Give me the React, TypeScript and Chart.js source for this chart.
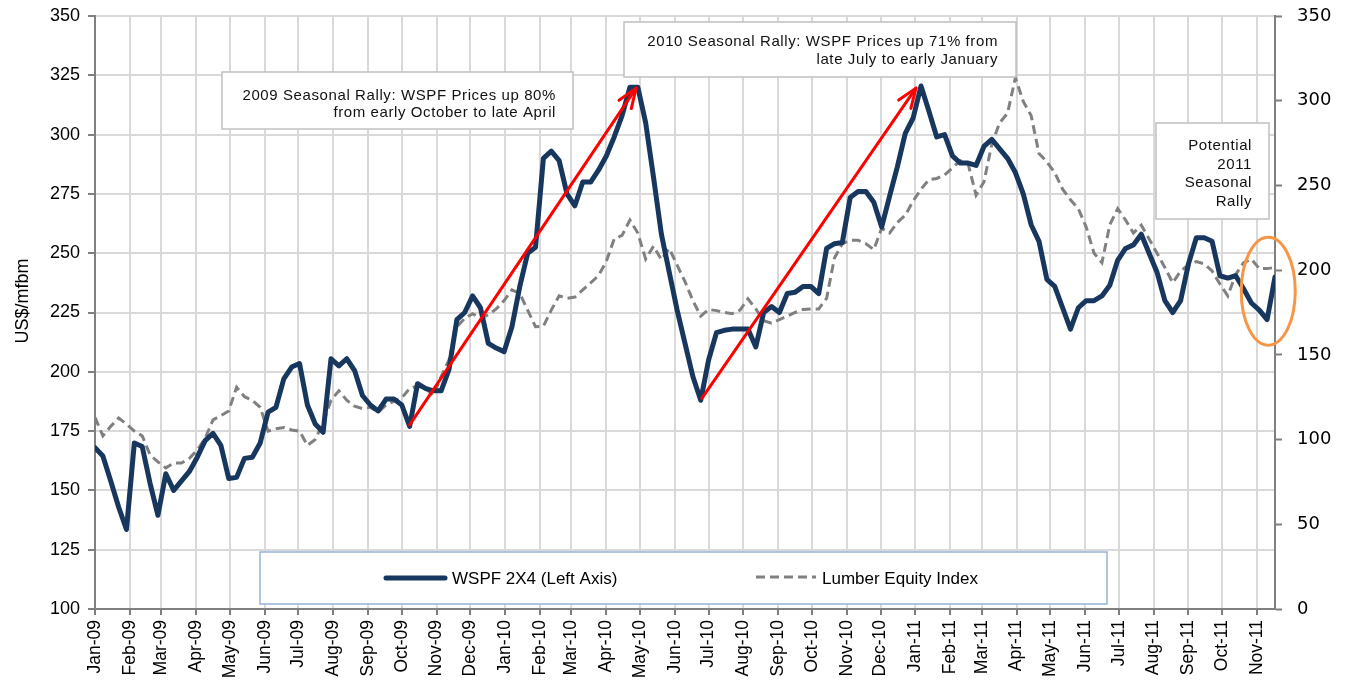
import React, { useEffect, useRef } from 'react';
import { Chart, registerables } from 'chart.js';

Chart.register(...registerables);

// ---------- Data ----------
const MONTH_LABELS = [
  'Jan-09', 'Feb-09', 'Mar-09', 'Apr-09', 'May-09', 'Jun-09', 'Jul-09', 'Aug-09', 'Sep-09', 'Oct-09', 'Nov-09', 'Dec-09',
  'Jan-10', 'Feb-10', 'Mar-10', 'Apr-10', 'May-10', 'Jun-10', 'Jul-10', 'Aug-10', 'Sep-10', 'Oct-10', 'Nov-10', 'Dec-10',
  'Jan-11', 'Feb-11', 'Mar-11', 'Apr-11', 'May-11', 'Jun-11', 'Jul-11', 'Aug-11', 'Sep-11', 'Oct-11', 'Nov-11',
];

// Weekly WSPF 2x4 price (US$/mfbm), left axis, starting first week of Jan-09
const WSPF = [
  168, 164.5, 154, 143, 133.5, 170, 168.5, 153, 139.5, 157,
  150, 154, 158, 164, 171, 174, 169, 155, 155.5, 163.5,
  164, 170, 183, 185, 197, 202, 203.5, 186, 178, 174.5,
  205.5, 202.5, 205.5, 200.5, 190, 186, 183.5, 188.5, 188.5, 186,
  177, 195, 193, 192, 192, 201, 222, 225, 232, 227,
  212, 210, 208.5, 219, 236, 250, 252.5, 290, 293, 289,
  275, 270, 280, 280, 285, 291, 299, 308, 320, 320,
  305, 282, 258, 242, 226, 212, 198, 188, 205, 216.5,
  217.5, 218, 218, 218, 210.5, 225, 227.5, 225, 233, 233.5,
  236, 236, 233, 252, 254, 254.5, 273.5, 276, 276, 271.5,
  261, 274, 286.5, 300.5, 307, 320.5, 310, 299, 300, 291,
  288, 288, 287, 295, 298, 294, 290, 284, 275, 262,
  255, 239, 236, 227, 218, 227, 230, 230, 232, 236.5,
  247, 252, 253.5, 258, 250, 242, 230, 225, 230, 245.5,
  256.5, 256.5, 255, 240.5, 239.5, 240.5, 235, 229, 226, 222,
  240,
];

// Weekly Lumber Equity Index, right axis
const LUMBER = [
  113.1, 102.2, 107.8, 112.7, 109.2, 105, 102.2, 91, 86.8, 83.3,
  86.1, 86.1, 88.9, 93.8, 100.8, 111.6, 114.1, 116.9, 130.9, 125.3,
  123.2, 119, 105, 106.4, 107.1, 105.7, 105, 96.6, 100.1, 109.9,
  123.2, 128.8, 123.2, 119.7, 118.3, 119, 116.2, 120.4, 122.5, 124.6,
  130.2, 131.6, 130.2, 126, 137.2, 147, 166.6, 171.5, 174.3, 171.5,
  173.6, 177.1, 182, 188.3, 186.2, 176.4, 166.6, 166.9, 176.4, 184.8,
  183.4, 184.1, 188.3, 192.5, 196.7, 205.2, 218.4, 220.5, 229.6, 221.9,
  206.5, 214.2, 206.2, 212.8, 203, 193.2, 182, 172.9, 176.8, 176.1,
  175, 174.3, 176.4, 183.1, 177.1, 170.1, 168.7, 170.8, 172.9, 175,
  176.8, 177.1, 177.1, 183.4, 207.2, 215.6, 217.7, 217.7, 215.6, 212.1,
  224.7, 221.9, 228.2, 232.4, 240.8, 247.8, 253.4, 254.1, 256.2, 260.4,
  264.6, 262.5, 244.3, 252, 274.4, 287, 292.6, 313.6, 299.6, 291.2,
  268.8, 263.9, 257.6, 247.8, 241.5, 236.3, 225.4, 210, 204.4, 226.8,
  236.3, 229.6, 221.9, 226.5, 218.4, 210, 201.6, 192.5, 199.5, 203,
  205.1, 203.7, 199.5, 191.8, 184.8, 197.4, 204.4, 206.5, 200.9, 200.9,
  201.6,
];

const SERIES_NAMES = ['WSPF 2X4 (Left Axis)', 'Lumber Equity Index'];
const Y_TITLE = 'US$/mfbm';

// Annotation content (data-anchored arrows/ellipse, text notes)
const ARROWS = [
  { fromDay: 280, fromVal: 177.6, toDay: 481.5, toVal: 319.6 },
  { fromDay: 540, fromVal: 188.8, toDay: 730.5, toVal: 319.6 },
];
const HIGHLIGHT = { day: 1044, val: 234 };

const NOTE_TEXTS = [
  ['2009 Seasonal Rally: WSPF Prices up 80%', 'from early October to late April'],
  ['2010 Seasonal Rally: WSPF Prices up 71% from', 'late July to early January'],
  ['Potential', '2011', 'Seasonal', 'Rally'],
];

// ---------- derived ----------
const MON = ['Jan', 'Feb', 'Mar', 'Apr', 'May', 'Jun', 'Jul', 'Aug', 'Sep', 'Oct', 'Nov', 'Dec'];
const dayOf = (label: string) => {
  const [m, yy] = label.split('-');
  return Math.round((Date.UTC(2000 + Number(yy), MON.indexOf(m), 1) - Date.UTC(2009, 0, 1)) / 86400000);
};
const TICK_DAYS = MONTH_LABELS.map(dayOf);
const LABEL_BY_DAY: Record<number, string> = {};
MONTH_LABELS.forEach((l, i) => { LABEL_BY_DAY[TICK_DAYS[i]] = l; });
const WEEK_DAYS = WSPF.map((_, i) => i * 7);

// ---------- styles ----------
const NAVY = '#17375e';
const GRAYLINE = '#808080';
const FONT = 'Liberation Sans';

const NOTE_BOXES = [
  { left: 222, top: 72, w: 351, h: 57, textRight: 556, firstY: 95.5, lineH: 17.5 },
  { left: 624, top: 22, w: 392, h: 55, textRight: 998, firstY: 42, lineH: 18 },
  { left: 1156, top: 123, w: 113, h: 96, textRight: 1252, firstY: 146, lineH: 18.6 },
];

const zeroPad = (s: any) => {
  s.paddingTop = 0;
  s.paddingBottom = 0;
  s.paddingLeft = 0;
  s.paddingRight = 0;
};

const overlayPlugin = {
  id: 'overlay',
  afterDatasetsDraw(chart: any) {
    const ctx = chart.ctx as CanvasRenderingContext2D;
    const xs = chart.scales.x;
    const ys = chart.scales.y;
    ctx.save();
    ctx.strokeStyle = '#ff0000';
    ctx.lineWidth = 3;
    ctx.lineCap = 'round';
    ctx.lineJoin = 'round';
    for (const a of ARROWS) {
      const x1 = xs.getPixelForValue(a.fromDay);
      const y1 = ys.getPixelForValue(a.fromVal);
      const x2 = xs.getPixelForValue(a.toDay);
      const y2 = ys.getPixelForValue(a.toVal);
      ctx.beginPath();
      ctx.moveTo(x1, y1);
      ctx.lineTo(x2, y2);
      ctx.stroke();
      const ang = Math.atan2(y1 - y2, x1 - x2);
      const L = 21, s = 0.36;
      ctx.beginPath();
      ctx.moveTo(x2 + L * Math.cos(ang + s), y2 + L * Math.sin(ang + s));
      ctx.lineTo(x2, y2);
      ctx.lineTo(x2 + L * Math.cos(ang - s), y2 + L * Math.sin(ang - s));
      ctx.stroke();
    }
    // orange ellipse
    ctx.strokeStyle = '#f79646';
    ctx.lineWidth = 3;
    ctx.beginPath();
    ctx.ellipse(xs.getPixelForValue(HIGHLIGHT.day), ys.getPixelForValue(HIGHLIGHT.val), 27, 54, 0, 0, Math.PI * 2);
    ctx.stroke();
    ctx.restore();
  },
  afterDraw(chart: any) {
    const ctx = chart.ctx as CanvasRenderingContext2D;
    ctx.save();
    // y title
    ctx.save();
    ctx.translate(23, 301);
    ctx.rotate(-Math.PI / 2);
    ctx.fillStyle = '#000';
    ctx.font = `18px "${FONT}"`;
    ctx.textAlign = 'center';
    ctx.textBaseline = 'middle';
    ctx.fillText(Y_TITLE, 0, 0);
    ctx.restore();

    // note boxes
    NOTE_BOXES.forEach((b, i) => {
      ctx.fillStyle = '#ffffff';
      ctx.fillRect(b.left, b.top, b.w, b.h);
      ctx.strokeStyle = '#c0c0c0';
      ctx.lineWidth = 1.5;
      ctx.strokeRect(b.left, b.top, b.w, b.h);
      ctx.fillStyle = '#111';
      ctx.font = `15px "${FONT}"`;
      (ctx as any).letterSpacing = '0.6px';
      ctx.textAlign = 'right';
      ctx.textBaseline = 'middle';
      NOTE_TEXTS[i].forEach((t, j) => ctx.fillText(t, b.textRight, b.firstY + j * b.lineH));
      (ctx as any).letterSpacing = '0px';
    });

    // legend box
    ctx.fillStyle = '#ffffff';
    ctx.fillRect(260, 552, 847, 52);
    ctx.strokeStyle = '#95b3d7';
    ctx.lineWidth = 1.5;
    ctx.strokeRect(260, 552, 847, 52);
    ctx.lineCap = 'round';
    ctx.strokeStyle = NAVY;
    ctx.lineWidth = 5;
    ctx.beginPath();
    ctx.moveTo(386, 578);
    ctx.lineTo(445, 578);
    ctx.stroke();
    ctx.strokeStyle = GRAYLINE;
    ctx.lineWidth = 3;
    ctx.lineCap = 'butt';
    ctx.setLineDash([9, 5]);
    ctx.beginPath();
    ctx.moveTo(756, 577);
    ctx.lineTo(816, 577);
    ctx.stroke();
    ctx.setLineDash([]);
    ctx.fillStyle = '#000';
    ctx.font = `17px "${FONT}"`;
    ctx.textAlign = 'left';
    ctx.textBaseline = 'middle';
    ctx.fillText(SERIES_NAMES[0], 452, 579);
    ctx.fillText(SERIES_NAMES[1], 822, 579);
    ctx.restore();
  },
};

export default function App() {
  const ref = useRef<HTMLCanvasElement | null>(null);
  useEffect(() => {
    if (!ref.current) return;
    Chart.defaults.color = '#000';
    Chart.defaults.font.family = FONT;
    const chart = new Chart(ref.current, {
      type: 'line',
      data: {
        datasets: [
          {
            label: SERIES_NAMES[0],
            data: WSPF.map((v, i) => ({ x: WEEK_DAYS[i], y: v })),
            borderColor: NAVY,
            borderWidth: 5,
            pointRadius: 0,
            tension: 0,
            borderJoinStyle: 'round',
            borderCapStyle: 'round',
            yAxisID: 'y',
            fill: false,
          },
          {
            label: SERIES_NAMES[1],
            data: LUMBER.map((v, i) => ({ x: WEEK_DAYS[i], y: v })),
            borderColor: GRAYLINE,
            borderWidth: 3,
            borderDash: [9, 5],
            pointRadius: 0,
            tension: 0,
            yAxisID: 'y2',
            fill: false,
          },
        ],
      },
      options: {
        animation: false,
        responsive: false,
        devicePixelRatio: 1,
        layout: { padding: { top: 16, left: 0, right: 0, bottom: 0 } },
        plugins: { legend: { display: false }, tooltip: { enabled: false } },
        scales: {
          x: {
            type: 'linear',
            min: 0,
            max: WEEK_DAYS[WEEK_DAYS.length - 1],
            afterBuildTicks: (s: any) => { s.ticks = TICK_DAYS.map((v) => ({ value: v })); },
            afterFit: (s: any) => { s.height = 75; zeroPad(s); },
            ticks: {
              autoSkip: false,
              minRotation: 90,
              maxRotation: 90,
              padding: 5,
              font: { family: FONT, size: 17.5 },
              color: '#000',
              callback: (v: any) => LABEL_BY_DAY[v] ?? '',
            },
            grid: { color: '#d9d9d9', lineWidth: 2, tickLength: 6, tickColor: '#808080', tickWidth: 2 },
            border: { color: '#808080', width: 2 },
          },
          y: {
            position: 'left',
            min: 100,
            max: 350,
            afterFit: (s: any) => { s.width = 95; zeroPad(s); },
            ticks: { stepSize: 25, padding: 8, font: { family: FONT, size: 18 }, color: '#000' },
            grid: { color: '#d9d9d9', lineWidth: 2, tickLength: 7, tickColor: '#808080', tickWidth: 2 },
            border: { color: '#808080', width: 2 },
          },
          y2: {
            position: 'right',
            min: 0,
            max: 350,
            afterFit: (s: any) => { s.width = 74; zeroPad(s); },
            ticks: { stepSize: 50, padding: 15, font: { family: 'DejaVu Sans', size: 18 }, color: '#000' },
            grid: { drawOnChartArea: false, tickLength: 7, tickColor: '#808080', tickWidth: 2 },
            border: { color: '#808080', width: 2 },
          },
        },
      } as any,
      plugins: [overlayPlugin],
    });
    return () => chart.destroy();
  }, []);

  return (
    <div style={{ position: 'fixed', left: 0, top: 0, width: 1349, height: 684, background: '#fff' }}>
      <canvas ref={ref} width={1349} height={684} style={{ width: 1349, height: 684, display: 'block' }} />
    </div>
  );
}
